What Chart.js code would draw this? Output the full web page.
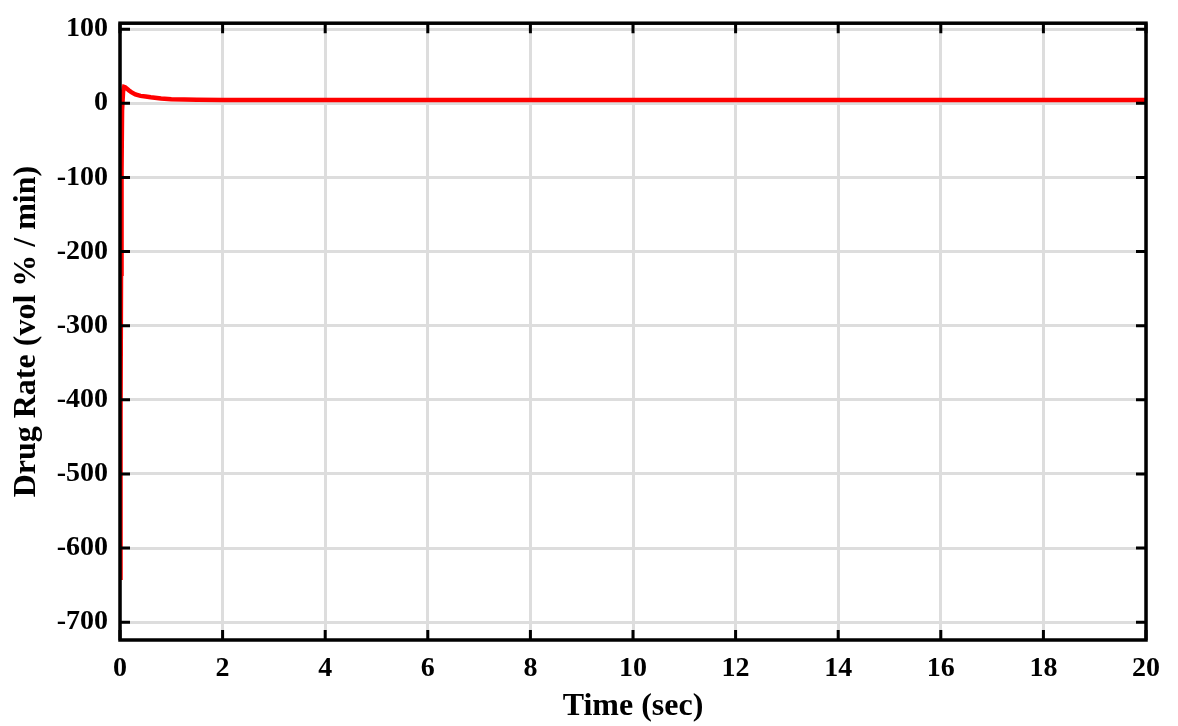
<!DOCTYPE html>
<html>
<head>
<meta charset="utf-8">
<script src="https://cdn.jsdelivr.net/npm/chart.js@4.4.1/dist/chart.umd.min.js"></script>
<style>
  html, body { margin: 0; padding: 0; background: #fff; }
  #wrap { width: 1178px; height: 726px; }
</style>
</head>
<body>
<div id="wrap"><canvas id="rateChart" width="1178" height="726"></canvas></div>
<script>
// time points (sec) and drug rate (vol % / min)
let times = [0, 0.01, 0.02, 0.03, 0.04, 0.06, 0.08, 0.1, 0.13, 0.17, 0.22, 0.3, 0.4, 0.5, 0.6, 0.8, 1, 1.5, 2, 4, 6, 8, 10, 12, 14, 16, 18, 20];
let rates = [-640, -420, -230, -90, -10, 16, 22, 21.5, 20, 17.5, 15, 12, 10, 9, 8, 6.5, 5.5, 4.8, 4.5, 4.5, 4.5, 4.5, 4.5, 4.5, 4.5, 4.5, 4.5, 4.5];

// tick labels
let xTicks = [0, 2, 4, 6, 8, 10, 12, 14, 16, 18, 20];
let yTicks = [-700, -600, -500, -400, -300, -200, -100, 0, 100];

let font = "'Liberation Serif', 'Times New Roman', serif";

// frame + inward ticks on all four sides
let framePlugin = {
  id: "frame",
  afterDraw(chart) {
    let ctx = chart.ctx;
    let a = chart.chartArea;
    let xs = chart.scales.x;
    let ys = chart.scales.y;
    ctx.save();
    ctx.strokeStyle = "#000";
    ctx.lineWidth = 3;
    ctx.beginPath();
    xTicks.forEach(function (v) {
      let px = xs.getPixelForValue(v);
      ctx.moveTo(px, a.bottom); ctx.lineTo(px, a.bottom - 10);
      ctx.moveTo(px, a.top); ctx.lineTo(px, a.top + 10);
    });
    yTicks.forEach(function (v) {
      let py = ys.getPixelForValue(v);
      ctx.moveTo(a.left, py); ctx.lineTo(a.left + 10, py);
      ctx.moveTo(a.right, py); ctx.lineTo(a.right - 10, py);
    });
    ctx.stroke();
    ctx.lineWidth = 3.5;
    ctx.strokeRect(a.left, a.top, a.right - a.left, a.bottom - a.top);
    ctx.restore();
  }
};

let points = times.map(function (t, i) { return { x: t, y: rates[i] }; });

new Chart(document.getElementById("rateChart").getContext("2d"), {
  type: "line",
  data: {
    datasets: [{
      data: points,
      borderColor: "#ff0000",
      borderWidth: 4.5,
      pointRadius: 0,
      tension: 0,
      fill: false
    }]
  },
  options: {
    responsive: false,
    animation: false,
    layout: { padding: { top: 21, right: 32, left: 0, bottom: 0 } },
    plugins: { legend: { display: false }, tooltip: { enabled: false } },
    scales: {
      x: {
        type: "linear",
        min: 0,
        max: 20,
        afterBuildTicks: function (axis) { axis.ticks = xTicks.map(function (v) { return { value: v }; }); },
        afterFit: function (axis) { axis.height = 86; },
        grid: { color: "#dddddd", lineWidth: 3, drawTicks: false },
        border: { display: false },
        ticks: { padding: 12, color: "#000", font: { family: font, size: 28, weight: "bold" } },
        title: { display: true, text: "Time (sec)", color: "#000", padding: { top: 0, bottom: 0 }, font: { family: font, size: 32, weight: "bold" } }
      },
      y: {
        min: -724,
        max: 108,
        afterBuildTicks: function (axis) { axis.ticks = yTicks.map(function (v) { return { value: v }; }); },
        afterFit: function (axis) { axis.width = 120; },
        grid: { color: "#dddddd", lineWidth: 3, drawTicks: false },
        border: { display: false },
        ticks: { padding: 12, color: "#000", font: { family: font, size: 28, weight: "bold", lineHeight: 0.8 } },
        title: { display: true, text: "Drug Rate (vol % / min)", color: "#000", padding: { top: 8, bottom: 0 }, font: { family: font, size: 32, weight: "bold" } }
      }
    }
  },
  plugins: [framePlugin]
});
</script>
</body>
</html>
